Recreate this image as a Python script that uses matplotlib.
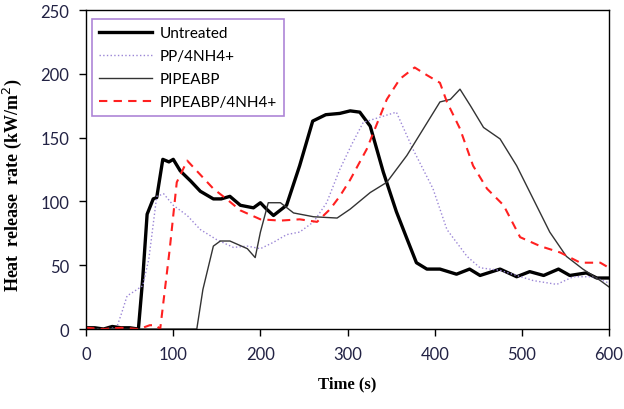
import matplotlib
matplotlib.use('Agg')
import matplotlib.pyplot as plt

# time (s) / heat release rate (kW/m2)
t_untreated = [0, 10, 20, 30, 40, 50, 60, 65, 70, 77, 81, 88, 95, 100, 108, 120, 131, 146, 155, 165,
               177, 192, 200, 207, 215, 230, 245, 260, 275, 291, 303, 314, 326, 341, 356, 368, 379, 391,
               406, 425, 440, 452, 475, 494, 509, 525, 542, 555, 574, 586, 600]
v_untreated = [1, 1, 0, 2, 1, 1, 0, 40, 90, 102, 103, 133, 131, 133, 124, 116, 108, 102, 102, 104,
               97, 95, 99, 94, 89, 97, 128, 163, 168, 169, 171, 170, 159, 123, 92, 71, 52, 47,
               47, 43, 47, 42, 47, 41, 45, 42, 47, 42, 44, 40, 40]

t_pp = [0, 20, 35, 41, 47, 54, 65, 72, 81, 89, 100, 116, 131, 150, 169, 185, 200, 215, 230, 245,
        261, 276, 291, 305, 318, 337, 356, 375, 398, 414, 437, 452, 475, 513, 540, 559, 582, 600]
v_pp = [0, 0, 1, 13, 26, 29, 34, 55, 104, 106, 97, 89, 78, 70, 64, 65, 63, 68, 74, 76,
        84, 99, 125, 145, 162, 166, 170, 141, 110, 78, 57, 48, 46, 38, 35, 41, 41, 36]

t_pipeabp = [0, 30, 60, 90, 120, 127, 134, 146, 154, 165, 185, 194, 200, 209, 223, 238, 261, 288,
             303, 326, 345, 368, 387, 406, 418, 429, 441, 456, 475, 494, 513, 532, 551, 570, 590, 600]
v_pipeabp = [0, 0, 0, 0, 0, 0, 31, 65, 69, 69, 63, 56, 76, 99, 99, 91, 88, 87,
             94, 107, 115, 136, 157, 178, 180, 188, 175, 158, 149, 128, 102, 76, 57, 47, 38, 33]

t_pipe_nh4 = [0, 20, 40, 60, 65, 73, 80, 85, 96, 104, 116, 131, 146, 161, 177, 200, 223, 245, 265,
              280, 291, 303, 322, 345, 360, 377, 391, 406, 414, 429, 444, 460, 479, 498, 521, 544,
              567, 590, 600]
v_pipe_nh4 = [1, 0, 1, 0, 1, 3, 3, 0, 63, 115, 132, 121, 110, 102, 93, 86, 85, 86, 84,
              94, 104, 117, 141, 180, 196, 205, 199, 193, 178, 157, 128, 110, 97, 72, 65, 60,
              52, 52, 48]

fig = plt.figure(figsize=(6.24, 4.10), dpi=100)
ax = fig.add_axes([0.138, 0.195, 0.838, 0.778])

ax.plot(t_untreated, v_untreated, color='black', lw=2.4, label='Untreated')
ax.plot(t_pp, v_pp, color='#9b86d6', lw=1.0, ls=':', label='PP/4NH4+')
ax.plot(t_pipeabp, v_pipeabp, color='#333333', lw=1.0, label='PIPEABP')
ax.plot(t_pipe_nh4, v_pipe_nh4, color='#ff2020', lw=1.5, ls=(0, (4, 3)), label='PIPEABP/4NH4+')

ax.set_xlim(0, 600)
ax.set_ylim(0, 250)
ax.set_xticks(range(0, 601, 100))
ax.set_yticks(range(0, 251, 50))
ax.tick_params(direction='out', length=5, width=1, labelsize=12, labelcolor='#222244', pad=7)
for lbl in ax.get_xticklabels() + ax.get_yticklabels():
    lbl.set_fontfamily('Lato')
for sp in ax.spines.values():
    sp.set_linewidth(1.0)

ax.set_xlabel('Time (s)', fontfamily='Liberation Serif', fontweight='bold', fontsize=12, labelpad=10)
ax.set_ylabel('Heat  release  rate (kW/m$^2$)', fontfamily='Liberation Serif', fontweight='bold',
              fontsize=13)
ax.yaxis.set_label_coords(-0.118, 0.455)

leg = ax.legend(loc='upper left', bbox_to_anchor=(0.0115, 0.972), borderaxespad=0, frameon=True,
                prop={'family': 'Lato', 'size': 11},
                fancybox=False, edgecolor='#9966cc', handlelength=3.5, labelspacing=0.6,
                borderpad=0.45, handletextpad=0.5)
leg.get_frame().set_linewidth(1.2)

fig.savefig('out.png', dpi=100)
